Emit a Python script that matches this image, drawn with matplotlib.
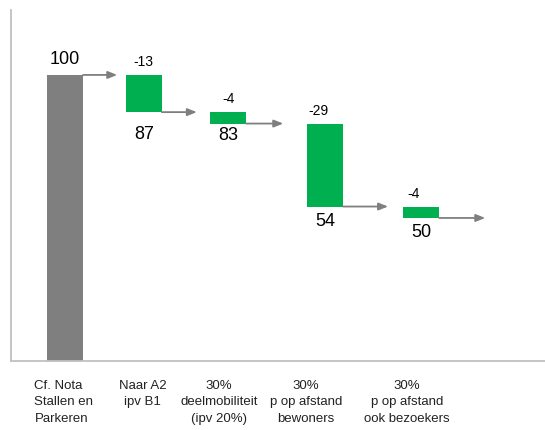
import matplotlib
matplotlib.use("Agg")
from matplotlib import pyplot as plt
import numpy as np

# data
categories = ["Cf. Nota\nStallen en\nParkeren", "Naar A2\nipv B1",
              "30%\ndeelmobiliteit\n(ipv 20%)", "30%\np op afstand\nbewoners",
              "30%\np op afstand\nook bezoekers"]
start = 100
deltas = [-13, -4, -29, -4]

# layout (units = bar widths)
xpos = [0, 2.19, 4.53, 7.22, 9.89]
label_pos = [-0.03, 2.15, 4.27, 6.69, 9.5]
arrow_len = [0.95, 0.97, 1.03, 1.25, 1.28]
total_off = [-14, -3, -6, -6]   # px below bar bottom, for 87, 83, 54, 50
delta_dx = [0, 0, -0.17, -0.2]

green = "#00b050"
grey = "#7f7f7f"

plt.rcParams["font.family"] = ["Liberation Sans", "DejaVu Sans"]

levels = np.concatenate([[start], start + np.cumsum(deltas)])

fig = plt.figure(figsize=(5.45, 4.30), dpi=100)
ax = fig.add_axes([11 / 545, 69 / 430, 534 / 545, 351 / 430])

# first bar (grey, full)
ax.bar(xpos[0], start, width=1, color=grey, align="center")
ax.annotate(str(start), (xpos[0], start), xytext=(0, 7), textcoords="offset pixels",
            ha="center", va="bottom", fontsize=13)

# floating bars
for i, d in enumerate(deltas):
    top = levels[i]
    bottom = levels[i + 1]
    ax.bar(xpos[i + 1], top - bottom, bottom=bottom, width=1, color=green)
    ax.annotate(str(d), (xpos[i + 1] + delta_dx[i], top), xytext=(0, 6),
                textcoords="offset pixels", ha="center", va="bottom", fontsize=10)

# totals below the floating bars
for i in range(1, len(levels)):
    ax.annotate(str(int(levels[i])), (xpos[i], levels[i]), xytext=(0, total_off[i - 1]),
                textcoords="offset pixels", ha="center", va="top", fontsize=13)

# arrows
for i, lv in enumerate(levels):
    x0 = xpos[i] + 0.5
    ax.annotate("", xy=(x0 + arrow_len[i], lv), xytext=(x0, lv),
                arrowprops=dict(arrowstyle="-|>,head_length=0.55,head_width=0.22",
                                color=grey, lw=1.3, shrinkA=0, shrinkB=0))

ax.set_xlim(-1.5, 13.33)
ax.set_ylim(0, 122.7)
ax.set_yticks([])
ax.set_xticks(label_pos)
ax.set_xticklabels(categories, fontsize=9.5, linespacing=1.52, va="top")
ax.get_xticklabels()[0].set_multialignment("left")
ax.tick_params(axis="x", length=0, pad=13.5, colors="#222222")
for s in ["top", "right"]:
    ax.spines[s].set_visible(False)
for s in ["left", "bottom"]:
    ax.spines[s].set_color("#c0c0c0")
    ax.spines[s].set_linewidth(1.3)

plt.savefig("out.png", dpi=100)
